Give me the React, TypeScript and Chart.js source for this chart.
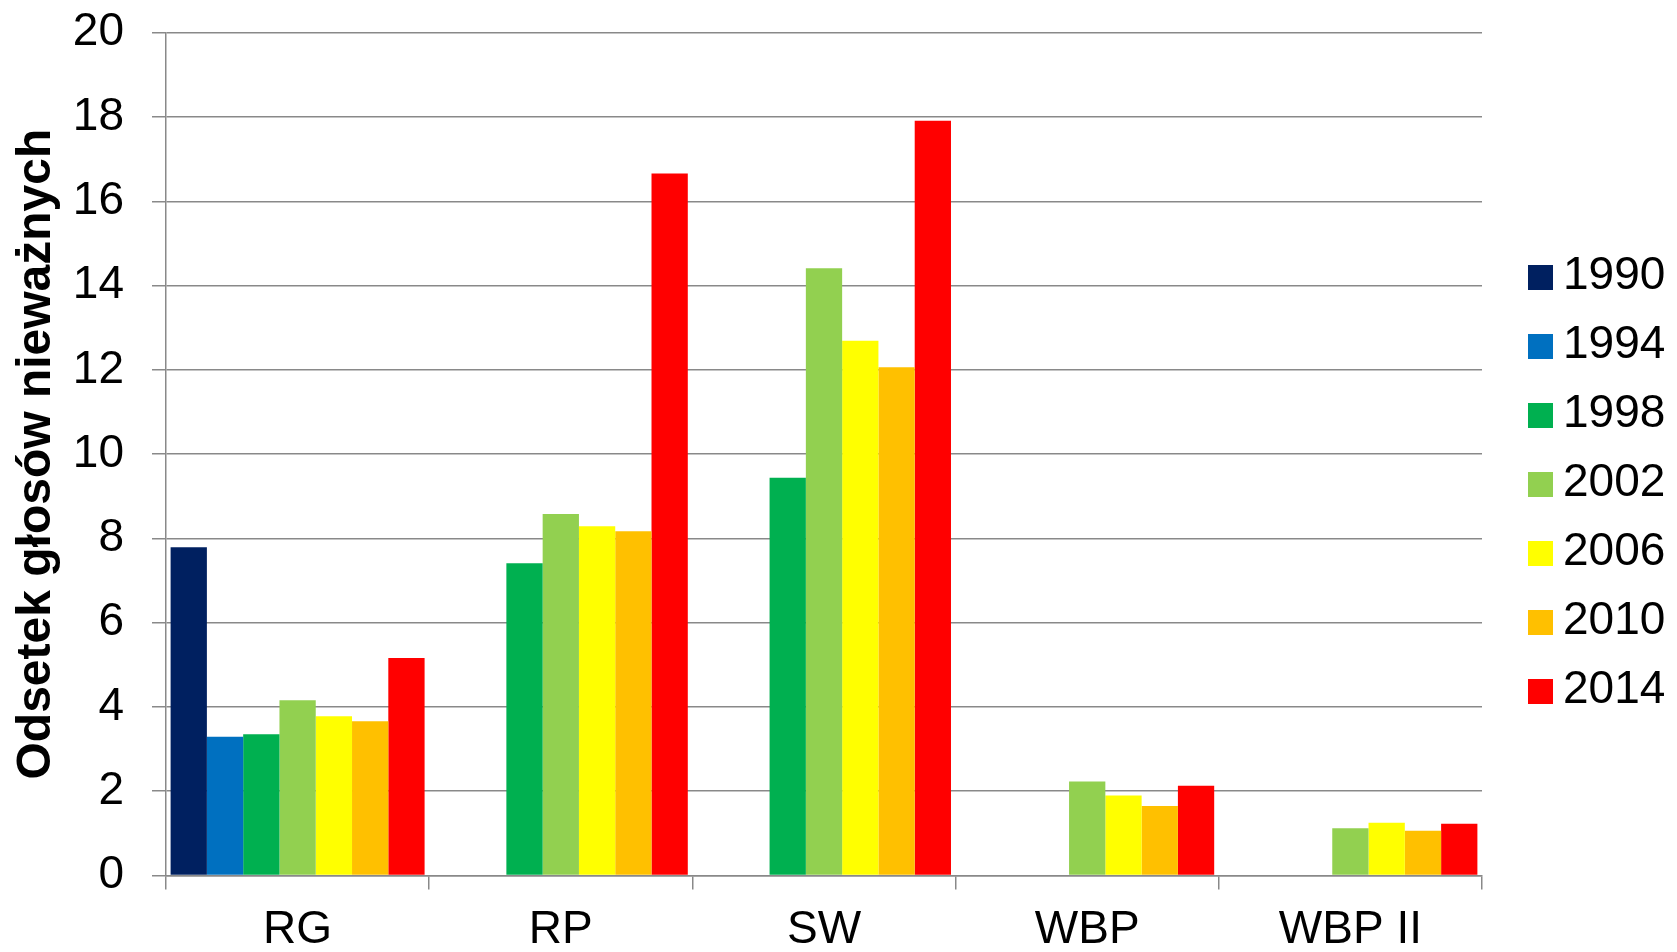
import React, { useEffect, useRef } from "react";
import { Chart, registerables } from "chart.js";

Chart.register(...registerables);

const categories = ["RG", "RP", "SW", "WBP", "WBP II"];
const years = ["1990", "1994", "1998", "2002", "2006", "2010", "2014"];
const colors = ["#002060", "#0070C0", "#00B050", "#92D050", "#FFFF00", "#FFC000", "#FF0000"];

const v1990 = [7.79, null, null, null, null];
const v1994 = [3.29, null, null, null, null];
const v1998 = [3.35, 7.41, 9.44, null, null];
const v2002 = [4.16, 8.58, 14.41, 2.23, 1.12];
const v2006 = [3.78, 8.29, 12.69, 1.9, 1.25];
const v2010 = [3.66, 8.17, 12.06, 1.65, 1.06];
const v2014 = [5.16, 16.66, 17.91, 2.13, 1.23];

const yMin = 0;
const yMax = 20;
const yStep = 2;
const yTitle = "Odsetek głosów nieważnych";

const seriesValues = [v1990, v1994, v1998, v2002, v2006, v2010, v2014];

const FONT = '"Liberation Sans", Arial, sans-serif';
const GRID = "#898989";

const sideLegend = {
  id: "sideLegend",
  afterDraw(chart: any) {
    const ctx = chart.ctx;
    const area = chart.chartArea;
    ctx.save();
    ctx.font = `46px ${FONT}`;
    ctx.textBaseline = "middle";
    ctx.textAlign = "left";
    ctx.fillStyle = "#000";
    const boxX = area.right + 46;
    const firstY = 277.5;
    const rowH = 69;
    const box = 25;
    chart.data.datasets.forEach((ds: any, i: number) => {
      const cy = firstY + i * rowH;
      ctx.fillStyle = ds.backgroundColor;
      ctx.fillRect(boxX, cy - box / 2, box, box);
      ctx.fillStyle = "#000";
      ctx.fillText(ds.label, boxX + box + 10, cy - 1);
    });
    ctx.restore();
  },
};

export default function App() {
  const ref = useRef<HTMLCanvasElement | null>(null);

  useEffect(() => {
    if (!ref.current) return;
    const chart = new Chart(ref.current, {
      type: "bar",
      data: {
        labels: categories,
        datasets: years.map((y, i) => ({
          label: y,
          data: seriesValues[i],
          backgroundColor: colors[i],
          borderWidth: 0,
          categoryPercentage: 0.965,
          barPercentage: 1,
        })),
      },
      options: {
        animation: false,
        responsive: false,
        maintainAspectRatio: false,
        layout: { padding: { top: 32.7, right: 195, left: 0, bottom: 0 } },
        plugins: {
          legend: { display: false },
          tooltip: { enabled: false },
          title: { display: false },
        },
        scales: {
          x: {
            grid: {
              display: true,
              offset: true,
              drawOnChartArea: false,
              drawTicks: true,
              tickLength: 14,
              color: GRID,
              lineWidth: 1.5,
            },
            border: { display: true, color: GRID, width: 1.5 },
            ticks: {
              color: "#000",
              font: { family: FONT, size: 46 },
              padding: 13,
              maxRotation: 0,
              autoSkip: false,
            },
            afterFit: (s: any) => {
              s.height = 76.5;
              s.paddingLeft = 0;
              s.paddingRight = 0;
            },
          },
          y: {
            min: yMin,
            max: yMax,
            ticks: {
              stepSize: yStep,
              color: "#000",
              font: { family: FONT, size: 46, lineHeight: 0.5 },
              padding: 28,
            },
            grid: {
              color: GRID,
              lineWidth: 1.5,
              drawTicks: true,
              tickLength: 14,
            },
            border: { display: true, color: GRID, width: 1.5 },
            title: {
              display: true,
              text: yTitle,
              color: "#000",
              font: { family: FONT, size: 48, weight: "bold" },
              padding: { top: 8, bottom: 0 },
            },
            afterFit: (s: any) => {
              s.width = 166;
              s.paddingTop = 0;
              s.paddingBottom = 0;
            },
          },
        },
      },
      plugins: [sideLegend],
    });
    return () => chart.destroy();
  }, []);

  return (
    <div style={{ position: "fixed", left: 0, top: 0, width: 1677, height: 952, background: "#fff" }}>
      <canvas ref={ref} width={1677} height={952} style={{ width: 1677, height: 952, display: "block" }} />
    </div>
  );
}
